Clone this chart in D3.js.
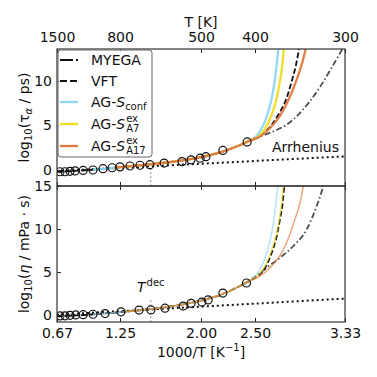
<!DOCTYPE html>
<html>
<head>
<meta charset="utf-8">
<script src="https://cdn.jsdelivr.net/npm/d3@7"></script>
<style>
body { margin: 0; background: #fff; }
text { font-family: "DejaVu Sans", sans-serif; fill: #111; }
</style>
</head>
<body>
<svg id="chart" width="377" height="377"></svg>
<script>
// simulation points: temperature [K] and log10 value
var tauT = [1440, 1350, 1270, 1200, 1100, 1000, 915, 850, 800, 745, 697, 655, 603, 548, 524, 502, 489, 454, 412];
var tauPts = [-0.2, -0.2, -0.15, -0.1, -0.05, 0.0, 0.15, 0.25, 0.35, 0.45, 0.53, 0.6, 0.78, 0.94, 1.14, 1.33, 1.5, 2.2, 3.15];
var etaT = [1440, 1350, 1270, 1190, 1100, 1000, 900, 794, 701, 651, 600, 545, 524, 498, 484, 454, 413];
var etaPts = [-0.1, -0.08, -0.03, 0.02, 0.05, 0.1, 0.18, 0.38, 0.58, 0.6, 0.81, 1.05, 1.37, 1.52, 1.76, 2.56, 3.73];

// fitted curves, [1000/T, log10 value]
var tauBase = [[0.667,-0.2],[0.8,-0.12],[0.9,-0.05],[1.0,0.03],[1.1,0.13],[1.2,0.25],[1.3,0.37],[1.4,0.48],[1.5,0.6],[1.6,0.73],[1.7,0.87],[1.8,1.03],[1.9,1.22],[2.0,1.45],[2.1,1.73],[2.2,2.07],[2.3,2.5],[2.4,3.0],[2.45,3.3]];
var tauMYEGA = [[2.5,3.55],[2.6,4.0],[2.7,4.5],[2.8,5.15],[2.9,6.2],[3.0,7.6],[3.1,9.3],[3.2,11.3],[3.3,13.4],[3.333,14.1]];
var tauVFT = [[2.5,3.6],[2.562,3.97],[2.655,5.09],[2.716,6.21],[2.793,8.09],[2.84,9.97],[2.88,11.83],[2.91,13.7],[2.925,14.5]];
var tauConf = [[2.5,3.65],[2.546,4.35],[2.614,6.21],[2.655,8.09],[2.682,9.97],[2.701,11.83],[2.716,13.7],[2.725,14.5]];
var tauA7 = [[2.521,3.65],[2.577,4.35],[2.655,6.21],[2.701,8.09],[2.731,9.97],[2.753,11.83],[2.768,13.7],[2.776,14.5]];
var tauA17 = [[2.53,3.65],[2.639,4.72],[2.738,6.21],[2.818,8.09],[2.88,9.97],[2.932,11.83],[2.972,13.7],[2.99,14.5]];
var tauArr = [[0.667,-0.12],[3.333,1.53]];

var etaBase = [[0.667,-0.15],[0.8,-0.06],[0.9,0.0],[1.0,0.08],[1.1,0.18],[1.2,0.29],[1.3,0.4],[1.4,0.52],[1.5,0.65],[1.6,0.8],[1.7,0.97],[1.8,1.17],[1.9,1.4],[2.0,1.68],[2.1,2.02],[2.2,2.45],[2.3,3.0],[2.4,3.65],[2.45,4.0]];
var etaMYEGA = [[2.5,4.45],[2.608,5.5],[2.731,6.67],[2.855,8.03],[2.979,9.97],[3.071,12.67],[3.127,14.8],[3.15,16]];
var etaVFT = [[2.528,4.54],[2.602,5.7],[2.655,7.25],[2.701,9.19],[2.731,11.13],[2.756,13.05],[2.771,15.0],[2.78,16]];
var etaConf = [[2.5,4.54],[2.562,5.7],[2.608,7.25],[2.648,9.19],[2.676,11.13],[2.694,13.05],[2.71,15.0],[2.72,16]];
var etaA7 = [[2.521,4.54],[2.593,5.7],[2.645,7.25],[2.694,9.19],[2.725,11.13],[2.747,13.05],[2.762,15.0],[2.77,16]];
var etaA17 = [[2.546,4.54],[2.655,5.7],[2.747,7.25],[2.818,9.19],[2.87,11.13],[2.917,13.05],[2.947,15.0],[2.96,16]];
var etaArr = [[0.667,0.05],[3.333,1.92]];

var tDec = 652;
var uTicks = [1000/1500, 1.25, 2.0, 2.5, 1000/300];
var uLabels = ["0.67", "1.25", "2.00", "2.50", "3.33"];
var tTicks = [1500, 800, 500, 400, 300];
var tauTicks = [0, 5, 10];
var etaTicks = [0, 5, 10, 15];

var cBlue = "#8dd6f6", cYellow = "#f0dc1e", cOrange = "#e2773c";

var svg = d3.select("#chart");
svg.append("rect").attr("width", 377).attr("height", 377).attr("fill", "#fff");

var x = d3.scaleLinear().domain([1000/1500, 1000/300]).range([57, 345]);
var yTau = d3.scaleLinear().domain([-1.8, 13.6]).range([186, 49]);
var yEta = d3.scaleLinear().domain([-0.8, 15]).range([322, 186]);

var defs = svg.append("defs");
defs.append("clipPath").attr("id", "clipTau").append("rect")
    .attr("x", 57).attr("y", 49).attr("width", 288).attr("height", 137);
defs.append("clipPath").attr("id", "clipEta").append("rect")
    .attr("x", 57).attr("y", 186).attr("width", 288).attr("height", 136);

function from(base, u0) {
  return base.filter(function(d) { return d[0] >= u0; });
}

function drawPanel(y, clipId, s, thin) {
  var line = d3.line()
      .x(function(d) { return x(d[0]); })
      .y(function(d) { return y(d[1]); })
      .curve(d3.curveMonotoneX);
  var g = svg.append("g").attr("clip-path", "url(#" + clipId + ")");

  // Arrhenius
  g.append("path").attr("d", line(s.arr)).attr("fill", "none")
      .attr("stroke", "#111").attr("stroke-width", 2).attr("stroke-dasharray", "2,3");

  var cw = thin ? 1.5 : 2.3;
  var op = thin ? 0.65 : 0.95;
  g.append("path").attr("d", line(s.base.concat(s.myega))).attr("fill", "none")
      .attr("stroke", "#222").attr("stroke-opacity", 0.8).attr("stroke-width", 1.8)
      .attr("stroke-dasharray", "6,2.5,1.5,2.5");
  g.append("path").attr("d", line(s.base.concat(s.vft))).attr("fill", "none")
      .attr("stroke", "#111").attr("stroke-width", 1.8).attr("stroke-dasharray", "5.5,2.5");
  g.append("path").attr("d", line(from(s.base, 0.95).concat(s.conf))).attr("fill", "none")
      .attr("stroke", cBlue).attr("stroke-opacity", op).attr("stroke-width", cw);
  g.append("path").attr("d", line(from(s.base, s.start).concat(s.a7))).attr("fill", "none")
      .attr("stroke", cYellow).attr("stroke-opacity", op).attr("stroke-width", cw);
  g.append("path").attr("d", line(from(s.base, s.start).concat(s.a17))).attr("fill", "none")
      .attr("stroke", cOrange).attr("stroke-opacity", op).attr("stroke-width", cw);

  // decomposition temperature
  g.append("line")
      .attr("x1", x(1000 / tDec)).attr("x2", x(1000 / tDec))
      .attr("y1", y.range()[0]).attr("y2", y(s.decTop))
      .attr("stroke", "#999").attr("stroke-width", 1.5).attr("stroke-dasharray", "1.5,2.5");

  g.selectAll("circle.pt").data(s.temps).enter().append("circle")
      .attr("class", "pt")
      .attr("cx", function(d) { return x(1000 / d); })
      .attr("cy", function(d, i) { return y(s.vals[i]); })
      .attr("r", 4).attr("fill", "none").attr("stroke", "#111").attr("stroke-width", 1.2);
}

drawPanel(yTau, "clipTau", {
  arr: tauArr, base: tauBase, myega: tauMYEGA, vft: tauVFT,
  conf: tauConf, a7: tauA7, a17: tauA17, start: 1.15, decTop: 0.4,
  temps: tauT, vals: tauPts
}, false);
drawPanel(yEta, "clipEta", {
  arr: etaArr, base: etaBase, myega: etaMYEGA, vft: etaVFT,
  conf: etaConf, a7: etaA7, a17: etaA17, start: 1.3, decTop: 2.0,
  temps: etaT, vals: etaPts
}, true);

// axes, ticks point inward
function styleAxis(g) {
  g.select(".domain").remove();
  g.attr("font-size", 14).attr("font-family", "DejaVu Sans");
  g.selectAll("line").attr("stroke", "#222");
  g.selectAll("text").attr("fill", "#111");
}

svg.append("g").attr("transform", "translate(57,0)")
    .call(d3.axisLeft(yTau).tickValues(tauTicks).tickSize(-4).tickPadding(5)).call(styleAxis);
svg.append("g").attr("transform", "translate(57,0)")
    .call(d3.axisLeft(yEta).tickValues(etaTicks).tickSize(-4).tickPadding(5)).call(styleAxis);

svg.append("g").attr("transform", "translate(0,49)")
    .call(d3.axisTop(x).tickValues(tTicks.map(function(t) { return 1000 / t; }))
      .tickFormat(function(d, i) { return tTicks[i]; }).tickSize(-4).tickPadding(7)).call(styleAxis);
svg.append("g").attr("transform", "translate(0,186)")
    .call(d3.axisBottom(x).tickValues(uTicks).tickFormat("").tickSize(-4)).call(styleAxis);
svg.append("g").attr("transform", "translate(0,186)")
    .call(d3.axisTop(x).tickValues(uTicks).tickFormat("").tickSize(-4)).call(styleAxis);
svg.append("g").attr("transform", "translate(0,322)")
    .call(d3.axisBottom(x).tickValues(uTicks)
      .tickFormat(function(d, i) { return uLabels[i]; }).tickSize(-4).tickPadding(6)).call(styleAxis);

// frames
svg.append("rect").attr("x", 57).attr("y", 49).attr("width", 288).attr("height", 137)
    .attr("fill", "none").attr("stroke", "#333").attr("stroke-width", 1.2);
svg.append("rect").attr("x", 57).attr("y", 186).attr("width", 288).attr("height", 136)
    .attr("fill", "none").attr("stroke", "#333").attr("stroke-width", 1.2);

// axis titles
svg.append("text").attr("x", 201).attr("y", 27).attr("text-anchor", "middle")
    .attr("font-size", 14).text("T [K]");
var xt = svg.append("text").attr("x", 201).attr("y", 357).attr("text-anchor", "middle").attr("font-size", 14);
xt.append("tspan").text("1000/T [K");
xt.append("tspan").attr("font-size", 10).attr("dy", -6).text("−1");
xt.append("tspan").attr("dy", 6).text("]");

var yt1 = svg.append("text").attr("transform", "translate(29,117.5) rotate(-90)")
    .attr("text-anchor", "middle").attr("font-size", 14);
yt1.append("tspan").text("log");
yt1.append("tspan").attr("font-size", 10).attr("dy", 3).text("10");
yt1.append("tspan").attr("dy", -3).text("(τ");
yt1.append("tspan").attr("font-size", 10).attr("dy", 3).attr("font-style", "italic").text("α");
yt1.append("tspan").attr("dy", -3).text(" / ps)");

var yt2 = svg.append("text").attr("transform", "translate(29,254) rotate(-90)")
    .attr("text-anchor", "middle").attr("font-size", 14);
yt2.append("tspan").text("log");
yt2.append("tspan").attr("font-size", 10).attr("dy", 3).text("10");
yt2.append("tspan").attr("dy", -3).text("(");
yt2.append("tspan").attr("font-style", "italic").text("η");
yt2.append("tspan").text(" / mPa · s)");

// annotations
svg.append("text").attr("x", 272).attr("y", 152).attr("font-size", 14).text("Arrhenius");
var td = svg.append("text").attr("x", 137).attr("y", 292).attr("font-size", 14);
td.append("tspan").attr("font-style", "italic").text("T");
td.append("tspan").attr("font-size", 10).attr("dx", 1).attr("dy", -6).text("dec");

// legend
var lg = svg.append("g");
lg.append("rect").attr("x", 58).attr("y", 50).attr("width", 94).attr("height", 107).attr("rx", 3)
    .attr("fill", "#fff").attr("fill-opacity", 0.85).attr("stroke", "#666").attr("stroke-width", 1);

var legendRows = [
  { y: 60, color: "#111", dash: "13,3,2,3", w: 2 },
  { y: 81, color: "#111", dash: "7,3", w: 2 },
  { y: 102, color: cBlue, dash: null, w: 2.3 },
  { y: 124, color: cYellow, dash: null, w: 2.3 },
  { y: 146, color: cOrange, dash: null, w: 2.3 }
];
legendRows.forEach(function(r) {
  lg.append("line").attr("x1", 60).attr("x2", 78).attr("y1", r.y).attr("y2", r.y)
      .attr("stroke", r.color).attr("stroke-width", r.w).attr("stroke-dasharray", r.dash);
});
lg.append("text").attr("x", 91).attr("y", 65).attr("font-size", 14).text("MYEGA");
lg.append("text").attr("x", 91).attr("y", 86).attr("font-size", 14).text("VFT");
var l3 = lg.append("text").attr("x", 91).attr("y", 107).attr("font-size", 14);
l3.append("tspan").text("AG-");
l3.append("tspan").attr("font-style", "italic").text("S");
l3.append("tspan").attr("font-size", 10).attr("dy", 3).text("conf");

function supSub(yb, sub) {
  var t = lg.append("text").attr("x", 91).attr("y", yb).attr("font-size", 14);
  t.append("tspan").text("AG-");
  t.append("tspan").attr("font-style", "italic").text("S");
  var xe = 91 + t.node().getComputedTextLength() + 1;
  lg.append("text").attr("x", xe).attr("y", yb - 7).attr("font-size", 10).text("ex");
  lg.append("text").attr("x", xe).attr("y", yb + 3).attr("font-size", 10).text(sub);
}
supSub(129, "A7");
supSub(151, "A17");
</script>
</body>
</html>
